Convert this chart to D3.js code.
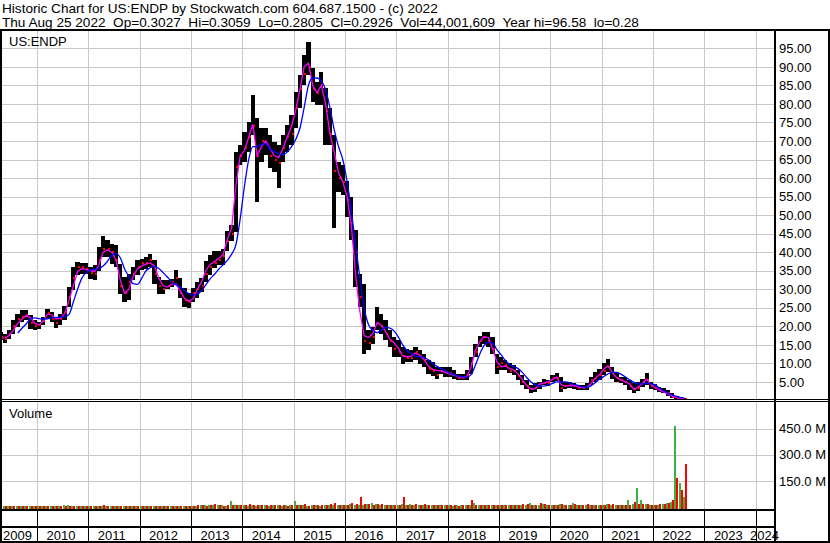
<!DOCTYPE html>
<html>
<head>
<meta charset="utf-8">
<script src="https://cdn.jsdelivr.net/npm/d3@7"></script>
<style>
  body { margin: 0; background: #fff; }
  svg { display: block; }
  text { font-family: Arial, "Liberation Sans", sans-serif; fill: #000; }
</style>
</head>
<body>
<svg id="chart" width="830" height="543"></svg>
<script>

// monthly bars, Apr 2009 .. Aug 2022 (one value per month, one row per year)
var firstMonth = new Date(2009, 3, 1);

var high = [
  18.5, 18, 19, 21.6, 23.4, 24.3, 24.5, 23, 21.6,
  21.2, 22.5, 24.8, 23.8, 22.5, 23.4, 25.6, 30.6, 36, 37.4, 37.1, 37,
  36, 36.5, 41.4, 44.3, 43.2, 42.3, 42, 36.9, 33.3, 34.2, 36, 37.8,
  38.3, 38.7, 39.6, 37.8, 33.3, 32.4, 32.4, 32.9, 35.2, 33, 30.3, 29,
  30.3, 32.1, 33, 37.5, 39.3, 40.2, 40.2, 41, 45.6, 47.4, 67, 68.9,
  72.5, 75.2, 82.4, 76.1, 73.4, 73.4, 71.6, 69.8, 68.9, 71.6, 74.3, 77,
  83.3, 87.8, 93.2, 96.6, 89.6, 86, 88.7, 84.2, 78.8, 71.6, 64.4, 63.5,
  59.3, 54.8, 45.9, 34.2, 31.5, 18.9, 19.8, 25.2, 23.4, 21.6, 18.9, 17.1,
  16.2, 14.4, 14, 13.5, 14.4, 13.5, 12.6, 10.8, 10.3, 9, 9, 9,
  9, 8.1, 7.2, 7.2, 8.1, 11.7, 15.3, 17.5, 18.4, 18.4, 17.1, 12.6,
  11.7, 10.8, 10, 9.5, 8.2, 6.8, 5.5, 4.1, 4.6, 5, 5.7, 5.5,
  6.8, 7.5, 6.4, 5, 5, 4.6, 4.1, 4.1, 4.6, 6.4, 7.7, 8.6,
  10, 11.3, 9.1, 7.3, 6.4, 6.4, 5.5, 4.6, 5, 5.9, 7.5, 5,
  4.4, 3.7, 3.5, 2.8, 1.9, 1.2, 1, 0.8
];

var low = [
  16.2, 15.5, 16.7, 18, 19.8, 21.2, 21.6, 19.4, 19,
  19.4, 20.3, 22, 21.2, 19.6, 20.3, 21.6, 25.2, 29.7, 33.8, 34.2, 34.2,
  32.9, 32.4, 35, 38.7, 38.7, 36.9, 36, 28.8, 26.6, 27, 32.4, 33.8,
  35.1, 35.6, 36, 31.5, 28.8, 28.8, 30.2, 30.6, 31.2, 27.6, 25.3, 25,
  26.7, 27.6, 29.4, 32.1, 33.9, 35.7, 36.6, 36.6, 40.2, 42.9, 45.5, 63.5,
  64.4, 67.1, 71.6, 53.6, 64.4, 66.2, 62.6, 61.7, 57.2, 64.4, 67.1, 68.9,
  73.4, 78.8, 85.1, 87.8, 80.6, 79.7, 79.7, 69, 69, 46.5, 56.3, 55.4,
  49.4, 43.2, 30.6, 25.2, 12.6, 13.5, 15.3, 18.9, 18, 16.2, 14.4, 11.7,
  11.7, 9.9, 10.3, 10.3, 10.8, 9.9, 9, 7.2, 6.7, 5.8, 7.2, 6.3,
  6.3, 5.8, 5.4, 5.4, 5.4, 7.2, 11.7, 14.4, 15.3, 14.4, 12.6, 7.2,
  8.1, 8.1, 7.3, 6.8, 5.5, 4.1, 3.2, 2.1, 2.3, 3.2, 4.1, 3.9,
  5, 5.3, 2.3, 3.2, 3.5, 3.2, 2.8, 2.8, 2.8, 4.1, 5, 5.5,
  6.8, 7.7, 5.9, 5, 4.6, 4.1, 2.8, 2.1, 2.6, 3.7, 4.1, 3.2,
  2.8, 2.3, 1.9, 1.2, 0.6, 0.3, 0.2, 0.2
];

var close = [
  17, 16.5, 18, 20, 22, 22.5, 23, 21, 20,
  20.5, 21.5, 23.5, 22, 21, 22, 24, 28, 33, 36, 36, 35.5,
  34.5, 34, 38, 41, 41, 40, 38, 31, 29, 32, 34, 36,
  37, 37, 38, 34, 31, 30, 31, 32, 33, 29, 27, 26.5,
  29, 30, 31, 34, 36, 37, 38, 39, 43, 45, 63, 66,
  68, 71, 74, 66, 70, 69, 66, 65, 64, 68, 71, 72,
  79, 84, 88, 90, 84, 83, 85, 78, 72, 62, 60, 59,
  54, 48, 40, 28, 16, 15.5, 17, 21, 20, 18, 16, 14,
  13, 12, 11.5, 11.5, 13, 12, 11, 8.5, 8, 7, 8, 7.5,
  7.5, 7, 6, 6, 7, 10, 13, 16, 17, 16, 14, 9,
  10, 9.5, 8, 8, 6.5, 5, 4, 3, 3.5, 4, 4.8, 4.7,
  6, 6, 3.5, 4, 4.2, 3.8, 3.4, 3.3, 3.6, 5.5, 6, 7,
  8, 9, 7.5, 6, 5.5, 5, 4, 3.2, 3.5, 5, 5.5, 3.8,
  3.5, 3, 2.4, 1.9, 1, 0.5, 0.4, 0.3
];

// short moving average (magenta)
var maFast = [
  16.8, 16.9, 17.5, 19, 20.8, 22, 23, 22.3, 20.8,
  20.4, 21.5, 23.3, 23.1, 22, 22.2, 23.5, 27, 30.8, 34.8, 35.6, 35.4,
  35, 34.8, 36.5, 40, 40.6, 40, 38, 32.5, 29, 30, 33.5, 35.5,
  36.3, 36.8, 37.1, 36.3, 33, 31, 30.6, 31.3, 31.5, 29.5, 27.5, 26.8,
  27.5, 30, 32, 35, 36.7, 37.4, 38.3, 39.3, 43.5, 46.5, 58, 66,
  67.5, 71, 74.5, 66, 68.5, 70, 68, 66, 65.5, 68, 71, 74,
  78.5, 84, 90, 91, 85, 83, 85, 80, 72, 67, 61.5, 59,
  55, 47, 34, 24, 17.5, 17, 18, 21, 20.3, 18.5, 16.5, 15.5,
  14, 12, 11.8, 12, 12.8, 12.2, 11, 9.2, 8.4, 8.1, 8, 7.6,
  7.1, 6.8, 6.5, 6.1, 6.5, 9, 13.5, 15.8, 17.2, 17, 14, 10.5,
  9.1, 9.3, 8.6, 8.3, 7.2, 5.6, 4, 3.1, 3.2, 4.4, 4.7, 5.1,
  5.7, 6.3, 4.3, 3.9, 4, 4.1, 3.7, 3.5, 3.5, 4.6, 6, 7,
  8.5, 9.4, 7.5, 6.2, 5.5, 5.1, 4.5, 3, 3.6, 4.6, 5.8, 4.3,
  3.5, 2.8, 2.3, 1.7, 1.2, 0.8, 0.6, 0.5
];

// long moving average (blue), starts a few months in
var maSlow = [
  null, null, null, null, 18.2, 19.5, 20.7, 22, 22.3,
  22.1, 21.9, 22, 22.3, 22.4, 22.5, 22.6, 23.2, 26.5, 30, 33, 34.5,
  35.2, 35.4, 35.6, 36.3, 37.5, 39.1, 39.6, 38.5, 35.5, 33.5, 31.5, 31.3,
  33, 35, 35.8, 36.2, 35.6, 34.5, 33.3, 32, 31.2, 30.6, 29.6, 28.8,
  28.5, 28.7, 29.6, 31.2, 32.8, 34, 35.4, 36.6, 37.8, 39.5, 42, 49,
  58, 65, 68.5, 68.5, 69, 69.3, 67.8, 67.2, 66.6, 66.3, 67, 68.5,
  70.5, 73.5, 79, 85, 87, 87, 86.2, 83.8, 79, 73, 68.5, 65,
  59, 51, 42, 33, 25, 20.5, 19, 18.3, 19, 19.7, 19.5, 18.7,
  17, 15, 13.5, 12.7, 12, 11.8, 11.6, 11, 10, 9.2, 8.6, 8,
  7.4, 7, 6.6, 6.4, 6.3, 7, 9.5, 12.5, 14.8, 15.7, 15.5, 13.7,
  12.3, 10.8, 9.8, 9.2, 8.6, 7.6, 6.2, 5, 4.2, 3.9, 3.9, 4.2,
  4.6, 5, 5, 5, 4.8, 4.3, 4.1, 3.7, 3.5, 4, 4.8, 5.8,
  6.5, 7.2, 7.6, 7.6, 7.1, 6.4, 5.6, 4.9, 4.5, 4.5, 4.6, 4.5,
  4.2, 3.3, 2.6, 2, 1.5, 1.1, 0.8, 0.6
];

// volume in millions of shares, up and down weeks
var volUp = [
  5, 4, 5, 6, 5, 4, 5, 4, 4,
  4, 5, 5, 4, 5, 6, 12, 9, 6, 5, 4, 5,
  6, 5, 7, 6, 5, 5, 6, 5, 6, 5, 5, 4,
  4, 5, 4, 5, 5, 4, 5, 4, 5, 6, 5, 5,
  6, 8, 12, 10, 14, 12, 9, 10, 8, 35, 10, 12,
  10, 8, 12, 8, 9, 10, 8, 9, 10, 8, 10, 9,
  35, 10, 9, 8, 10, 9, 8, 12, 10, 10, 12, 14,
  12, 20, 10, 12, 14, 15, 25, 15, 12, 10, 12, 10,
  12, 15, 10, 20, 12, 10, 14, 12, 12, 10, 10, 9,
  9, 8, 10, 9, 12, 12, 22, 10, 9, 10, 10, 12,
  10, 9, 10, 10, 12, 14, 12, 22, 12, 14, 15, 12,
  14, 12, 16, 12, 10, 22, 12, 10, 12, 14, 12, 10,
  12, 18, 14, 12, 10, 12, 40, 20, 110, 43, 20, 12,
  12, 14, 20, 25, 30, 467, 140, 60
];

var volDown = [
  5, 5, 4, 5, 6, 5, 4, 5, 5,
  5, 4, 5, 6, 5, 5, 6, 7, 5, 4, 5, 5,
  5, 6, 6, 10, 6, 5, 7, 6, 5, 5, 4, 4,
  5, 4, 5, 6, 5, 5, 4, 5, 6, 5, 6, 5,
  7, 10, 14, 8, 10, 16, 10, 8, 9, 12, 14, 10,
  12, 15, 10, 10, 9, 10, 12, 9, 10, 9, 8, 10,
  10, 10, 15, 8, 9, 10, 12, 14, 20, 22, 14, 12,
  14, 22, 18, 55, 18, 16, 14, 16, 15, 12, 10, 12,
  14, 57, 12, 14, 15, 12, 15, 10, 10, 12, 9, 10,
  10, 9, 8, 10, 12, 40, 10, 9, 10, 12, 12, 10,
  12, 10, 10, 12, 10, 15, 20, 14, 14, 25, 15, 12,
  12, 14, 18, 14, 12, 15, 12, 10, 17, 12, 14, 12,
  14, 16, 15, 12, 10, 14, 12, 30, 15, 20, 15, 14,
  14, 16, 18, 22, 43, 169, 100, 244
];

var priceTicks = [5, 10, 15, 20, 25, 30, 35, 40, 45, 50, 55, 60, 65, 70, 75, 80, 85, 90, 95];
var volTicks = [150, 300, 450];
var years = [2009, 2010, 2011, 2012, 2013, 2014, 2015, 2016, 2017, 2018, 2019, 2020, 2021, 2022, 2023, 2024];

var headerLines = [
  'Historic Chart for US:ENDP by Stockwatch.com 604.687.1500 - (c) 2022',
  'Thu Aug 25 2022  Op=0.3027  Hi=0.3059  Lo=0.2805  Cl=0.2926  Vol=44,001,609  Year hi=96.58  lo=0.28'
];
var symbol = 'US:ENDP';


var W = 830, H = 543;
var plotLeft = 2, plotRight = 774;
var priceTop = 31, priceBottom = 399;
var volTop = 402, volBottom = 509;

var svg = d3.select('#chart');
svg.append('rect').attr('width', W).attr('height', H).attr('fill', '#fff');

var months = d3.timeMonth.range(firstMonth, d3.timeMonth.offset(firstMonth, high.length));

var x = d3.scaleTime()
  .domain([new Date(2009, 0, 1), new Date(2024, 0, 1)])
  .range([-14.3, 755.7]);

var y = d3.scaleLinear().domain([0, 100]).range([400.5, 29.8]);
var yv = d3.scaleLinear().domain([0, 600]).range([507, 402.4]);

function left(d) { return x(d); }
function right(d) { return x(d3.timeMonth.offset(d, 1)); }
function mid(d) { return (left(d) + right(d)) / 2; }
function crisp(v) { return Math.round(v) + 0.5; }

var gridColor = '#c8c8c8';
var yearStarts = years.slice(1).map(function (yr) { return new Date(yr, 0, 1); });

// ---- grid, price panel
var grid = svg.append('g').attr('stroke', gridColor).attr('stroke-width', 1);
grid.selectAll('line.hp').data(priceTicks).enter().append('line')
  .attr('x1', plotLeft).attr('x2', plotRight)
  .attr('y1', function (d) { return crisp(y(d)); })
  .attr('y2', function (d) { return crisp(y(d)); });
grid.selectAll('line.vp').data(yearStarts).enter().append('line')
  .attr('x1', function (d) { return crisp(x(d)); })
  .attr('x2', function (d) { return crisp(x(d)); })
  .attr('y1', priceTop).attr('y2', priceBottom);

// ---- grid, volume panel
grid.selectAll('line.hv').data(volTicks).enter().append('line')
  .attr('x1', plotLeft).attr('x2', plotRight)
  .attr('y1', function (d) { return crisp(yv(d)); })
  .attr('y2', function (d) { return crisp(yv(d)); });
grid.selectAll('line.vv').data(yearStarts).enter().append('line')
  .attr('x1', function (d) { return crisp(x(d)); })
  .attr('x2', function (d) { return crisp(x(d)); })
  .attr('y1', volTop).attr('y2', volBottom);

// ---- price bars (one per month, high to low, red tick at the close)
var bars = svg.append('g').attr('shape-rendering', 'crispEdges');
bars.selectAll('rect.bar').data(months).enter().append('rect')
  .attr('x', function (d) { return left(d); })
  .attr('width', function (d) { return right(d) - left(d); })
  .attr('y', function (d, i) { return y(high[i]); })
  .attr('height', function (d, i) { return Math.max(1, y(low[i]) - y(high[i])); })
  .attr('fill', '#000');
bars.selectAll('rect.cl').data(months).enter().append('rect')
  .attr('x', function (d) { return right(d) - 2; })
  .attr('width', 2)
  .attr('y', function (d, i) { return y(close[i]) - 1; })
  .attr('height', 2)
  .attr('fill', '#ff0000');

// ---- moving averages
var lineFast = d3.line()
  .x(function (d) { return mid(d); })
  .y(function (d, i) { return y(maFast[i]); });
var lineSlow = d3.line()
  .defined(function (d, i) { return maSlow[i] != null; })
  .x(function (d) { return mid(d); })
  .y(function (d, i) { return y(maSlow[i]); })
  .curve(d3.curveMonotoneX);

svg.append('path').datum(months)
  .attr('d', lineFast)
  .attr('fill', 'none').attr('stroke', '#ff00ff').attr('stroke-width', 1.3);
svg.append('path').datum(months)
  .attr('d', lineSlow)
  .attr('fill', 'none').attr('stroke', '#0000ff').attr('stroke-width', 1.3);

// ---- volume bars
var vol = svg.append('g').attr('shape-rendering', 'crispEdges');
vol.selectAll('rect.up').data(months).enter().append('rect')
  .attr('x', function (d) { return mid(d) - 2; })
  .attr('width', 2)
  .attr('y', function (d, i) { return yv(volUp[i]); })
  .attr('height', function (d, i) { return volBottom - yv(volUp[i]); })
  .attr('fill', '#3cb043');
vol.selectAll('rect.dn').data(months).enter().append('rect')
  .attr('x', function (d) { return mid(d); })
  .attr('width', 2)
  .attr('y', function (d, i) { return yv(volDown[i]); })
  .attr('height', function (d, i) { return volBottom - yv(volDown[i]); })
  .attr('fill', '#ff0000');

// ---- right axes
var priceAxis = d3.axisRight(y).tickValues(priceTicks)
  .tickFormat(d3.format('.2f')).tickSize(0).tickPadding(5);
var gpa = svg.append('g').attr('transform', 'translate(' + plotRight + ',0)').call(priceAxis);
gpa.select('.domain').remove();
gpa.selectAll('text').attr('font-size', 13).attr('font-family', 'Arial, "Liberation Sans", sans-serif').attr('fill', '#000');

var volAxis = d3.axisRight(yv).tickValues(volTicks)
  .tickFormat(function (d) { return d.toFixed(1) + ' M'; }).tickSize(0).tickPadding(5);
var gva = svg.append('g').attr('transform', 'translate(' + plotRight + ',0)').call(volAxis);
gva.select('.domain').remove();
gva.selectAll('text').attr('font-size', 13).attr('font-family', 'Arial, "Liberation Sans", sans-serif').attr('fill', '#000');

// ---- frame
var frame = svg.append('g').attr('stroke', '#000').attr('shape-rendering', 'crispEdges');
function hline(y0, x1, x2, w) {
  frame.append('line').attr('x1', x1).attr('x2', x2).attr('y1', y0).attr('y2', y0).attr('stroke-width', w);
}
function vline(x0, y1, y2, w) {
  frame.append('line').attr('x1', x0).attr('x2', x0).attr('y1', y1).attr('y2', y2).attr('stroke-width', w);
}
hline(30, 0, W, 2);
hline(399.5, 0, W, 1);
hline(401.5, 0, W, 1);
hline(510, 0, plotRight, 2);
hline(527, 0, plotRight, 2);
hline(542, 0, W, 2);
vline(1, 29, H, 2);
vline(829, 29, H, 2);
vline(plotRight + 1, 29, H, 2);

// year separators in the two bottom bands
frame.selectAll('line.ys').data(yearStarts.filter(function (d) { return x(d) < plotRight; }))
  .enter().append('line')
  .attr('x1', function (d) { return crisp(x(d)); })
  .attr('x2', function (d) { return crisp(x(d)); })
  .attr('y1', 510).attr('y2', 542).attr('stroke-width', 1);

// ---- year labels
svg.append('g').selectAll('text').data(years).enter().append('text')
  .attr('x', function (d) {
    var px = x(new Date(d, 0, 1)) + 9.5;
    if (px < 3) px = 3;
    if (px + 27 > 777) px = 750;
    return px;
  })
  .attr('y', 540)
  .attr('font-size', 13)
  .text(function (d) { return d; });

// ---- header and panel titles
svg.append('g').selectAll('text').data(headerLines).enter().append('text')
  .attr('x', 2)
  .attr('y', function (d, i) { return 13 + i * 14; })
  .attr('font-size', 13.6)
  .style('white-space', 'pre')
  .text(function (d) { return d; });

svg.append('text').attr('x', 9).attr('y', 45.5).attr('font-size', 13).text(symbol);
svg.append('text').attr('x', 9).attr('y', 417.5).attr('font-size', 13).text('Volume');

</script>
</body>
</html>
